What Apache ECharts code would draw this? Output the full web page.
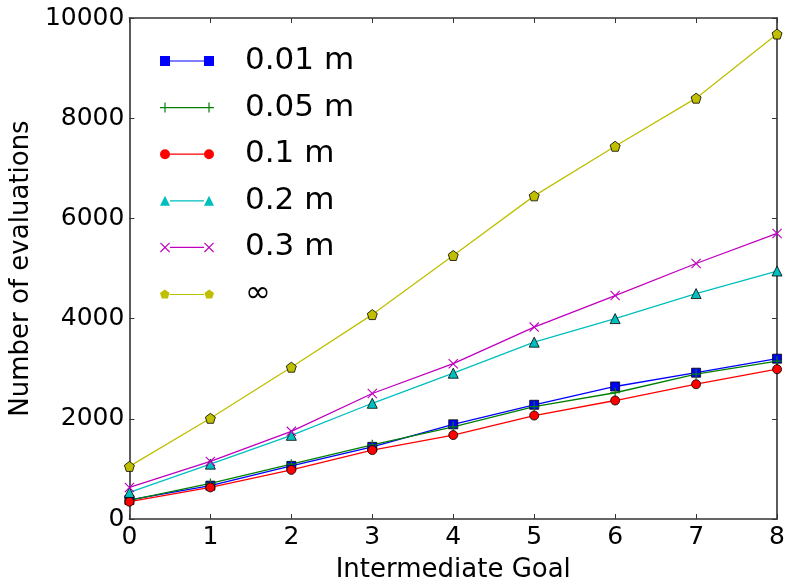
<!DOCTYPE html>
<html>
<head>
<meta charset="utf-8">
<script src="https://cdn.jsdelivr.net/npm/echarts@6/dist/echarts.min.js"></script>
<style>html,body{margin:0;padding:0;background:#fff}#c{width:788px;height:588px}</style>
</head>
<body>
<div id="c"></div>
<script>
var goals = [0, 1, 2, 3, 4, 5, 6, 7, 8];
var s001 = [380, 665, 1060, 1440, 1890, 2280, 2645, 2920, 3200];
var s005 = [370, 710, 1095, 1480, 1840, 2245, 2520, 2890, 3150];
var s01  = [345, 630, 980, 1375, 1675, 2065, 2365, 2690, 2990];
var s02  = [530, 1095, 1670, 2310, 2910, 3530, 4000, 4500, 4950];
var s03  = [630, 1150, 1750, 2505, 3100, 3830, 4460, 5100, 5700];
var sInf = [1050, 2010, 3030, 4080, 5260, 6450, 7440, 8400, 9680];
var seriesNames = ['0.01 m', '0.05 m', '0.1 m', '0.2 m', '0.3 m', '\u221e'];
var xTicks = [0, 1, 2, 3, 4, 5, 6, 7, 8];
var yTicks = [0, 2000, 4000, 6000, 8000, 10000];

var FONT = 'DejaVu Sans';
var colors = ['#0000ff', '#008000', '#ff0000', '#00bfbf', '#bf00bf', '#bfbf00'];
var FRAME = '#333333';

var PENT = 'path://M5,0L9.755,3.455L7.939,9.045L2.061,9.045L0.245,3.455Z';
var PLUS = 'path://M0,4.4h10v1.2h-10z M4.4,0h1.2v10h-1.2z';
var CROSS = 'path://M0,0.8L0.8,0L10,9.2L9.2,10Z M9.2,0L10,0.8L0.8,10L0,9.2Z';
var symbols = ['rect', PLUS, 'circle', 'triangle', CROSS, PENT];
var sizes = [9, 10, 9, 10, 10, 10];
var bordered = [true, false, true, true, false, true];
var datas = [s001, s005, s01, s02, s03, sInf];

var LINE = ' M10,4.4h34v1.2h-34z';
var legendIcons = [
  'path://M0,0h10v10h-10z M44,0h10v10h-10z' + LINE,
  'path://M0,4.4h10v1.2h-10z M4.4,0h1.2v10h-1.2z M44,4.4h10v1.2h-10z M48.4,0h1.2v10h-1.2z' + LINE,
  'path://M0,5a5,5 0 1,1 10,0a5,5 0 1,1 -10,0z M44,5a5,5 0 1,1 10,0a5,5 0 1,1 -10,0z' + LINE,
  'path://M0,10L5,0L10,10Z M44,10L49,0L54,10Z' + LINE,
  'path://M0,0.8L0.8,0L10,9.2L9.2,10Z M9.2,0L10,0.8L0.8,10L0,9.2Z M44,0.8L44.8,0L54,9.2L53.2,10Z M53.2,0L54,0.8L44.8,10L44,9.2Z' + LINE,
  'path://M5,0L9.755,3.455L7.939,9.045L2.061,9.045L0.245,3.455Z M49,0L53.755,3.455L51.939,9.045L46.061,9.045L44.245,3.455Z' + LINE
];

var series = datas.map(function (d, i) {
  return {
    name: seriesNames[i],
    type: 'line',
    data: goals.map(function (g, j) { return [g, d[j]]; }),
    symbol: symbols[i],
    symbolSize: sizes[i],
    showAllSymbol: true,
    clip: true,
    lineStyle: { color: colors[i], width: 1.3 },
    itemStyle: {
      color: colors[i],
      borderColor: bordered[i] ? '#000' : colors[i],
      borderWidth: bordered[i] ? 0.8 : 0
    },
    emphasis: { disabled: true },
    animation: false
  };
});

var tickCommon = { show: true, inside: true, length: 5, lineStyle: { color: FRAME, width: 1 } };
var lineCommon = { show: true, onZero: false, lineStyle: { color: FRAME, width: 1.6 } };

var option = {
  backgroundColor: '#fff',
  animation: false,
  textStyle: { fontFamily: FONT },
  grid: { left: 128, right: 10, top: 18, bottom: 68, show: false },
  legend: {
    orient: 'vertical',
    left: 155,
    top: 36,
    itemWidth: 54,
    itemHeight: 10,
    itemGap: 6.6,
    symbolKeepAspect: true,
    itemStyle: { borderWidth: 0 },
    textStyle: { fontFamily: FONT, fontSize: 31, color: '#000', lineHeight: 40, padding: [0, 0, 0, 26] },
    data: seriesNames.map(function (n, i) { return { name: n, icon: legendIcons[i], itemStyle: { color: colors[i], borderWidth: 0 } }; }),
    selectedMode: false
  },
  xAxis: [{
    type: 'value', min: xTicks[0], max: xTicks[xTicks.length - 1], interval: 1,
    name: 'Intermediate Goal', nameLocation: 'middle', nameGap: 38,
    nameTextStyle: { fontFamily: FONT, fontSize: 26, color: '#000' },
    axisLine: lineCommon,
    axisTick: tickCommon,
    axisLabel: { fontFamily: FONT, fontSize: 25, color: '#000', margin: 6 },
    splitLine: { show: false }
  }, {
    type: 'value', position: 'top', min: xTicks[0], max: xTicks[xTicks.length - 1], interval: 1,
    axisLine: lineCommon,
    axisTick: tickCommon, axisLabel: { show: false }, splitLine: { show: false }
  }],
  yAxis: [{
    type: 'value', min: yTicks[0], max: yTicks[yTicks.length - 1], interval: 2000,
    name: 'Number of evaluations', nameLocation: 'middle', nameGap: 94,
    nameTextStyle: { fontFamily: FONT, fontSize: 26, color: '#000' },
    axisLine: lineCommon,
    axisTick: tickCommon,
    axisLabel: { fontFamily: FONT, fontSize: 25, color: '#000', margin: 5, formatter: function (v) { return String(v); } },
    splitLine: { show: false }
  }, {
    type: 'value', position: 'right', min: yTicks[0], max: yTicks[yTicks.length - 1], interval: 2000,
    axisLine: lineCommon,
    axisTick: tickCommon, axisLabel: { show: false }, splitLine: { show: false }
  }],
  series: series
};

var chart = echarts.init(document.getElementById('c'), null, { renderer: 'canvas' });
chart.setOption(option);
</script>
</body>
</html>
